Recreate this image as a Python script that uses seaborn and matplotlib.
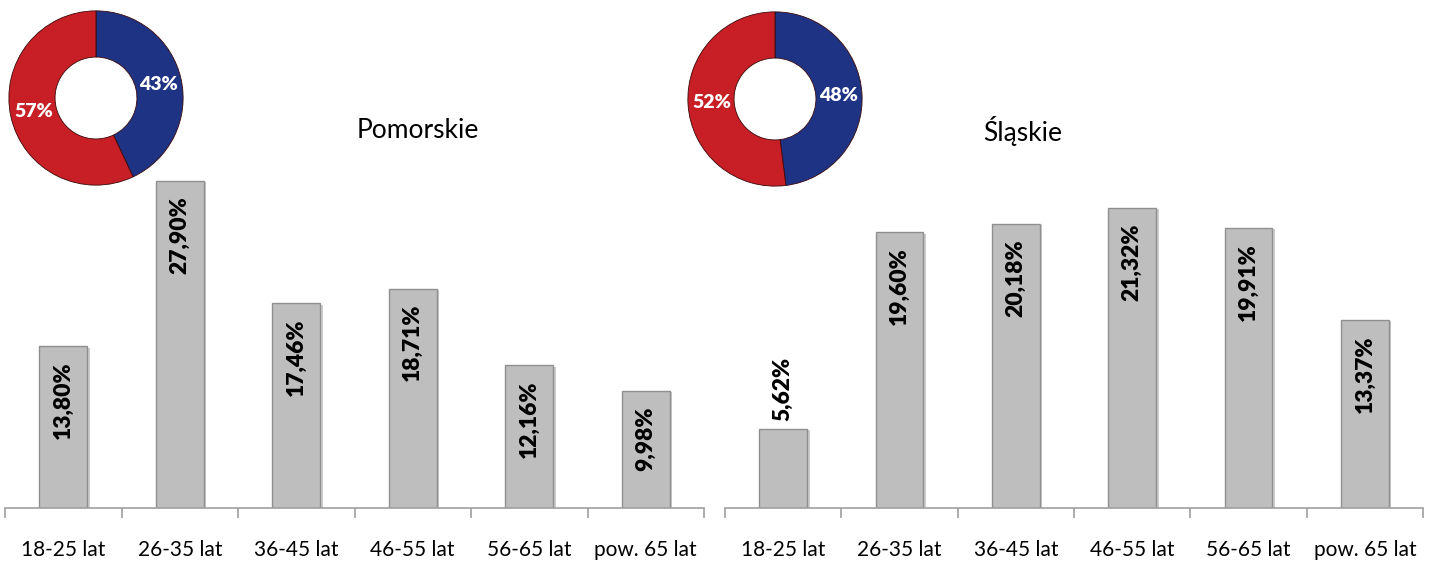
import numpy as np
import pandas as pd
import matplotlib
matplotlib.use('Agg')
import matplotlib.pyplot as plt
import matplotlib.patheffects as pe
import seaborn as sns

# Dane
kategorie = ['18-25 lat', '26-35 lat', '36-45 lat', '46-55 lat', '56-65 lat', 'pow. 65 lat']
pomorskie = [13.80, 27.90, 17.46, 18.71, 12.16, 9.98]
slaskie = [5.62, 19.60, 20.18, 21.32, 19.91, 13.37]
regiony = ['Pomorskie', 'Śląskie']
plec_pomorskie = [43, 57]   # niebieski, czerwony
plec_slaskie = [48, 52]

sns.set_theme(style='white')
plt.rcParams['font.family'] = ['Lato', 'DejaVu Sans']
plt.rcParams['text.color'] = 'black'

kolor_slupka = '#BEBEBE'
kolor_krawedzi = '#8F8F8F'
kolory_pie = ['#1F3384', '#C81E25']

W, H = 1435, 562
fig = plt.figure(figsize=(W / 100, H / 100), dpi=100)


def px_axes(x0, y0, x1, y1):
    # prostokat w pikselach (od gory) -> ulamki figury
    return fig.add_axes([x0 / W, 1 - y1 / H, (x1 - x0) / W, (y1 - y0) / H])


def wykres_slupkowy(ax, wartosci, ymax, tytul, tytul_x):
    df = pd.DataFrame({'kat': kategorie, 'val': wartosci})
    sns.barplot(data=df, x='kat', y='val', order=kategorie, ax=ax,
                color=kolor_slupka, width=0.41, edgecolor=kolor_krawedzi,
                linewidth=1.0, saturation=1)
    for p in ax.patches:
        p.set_path_effects([pe.SimplePatchShadow(offset=(2, -1), alpha=0.25),
                            pe.Normal()])
    ax.set_ylim(0, ymax)
    ax.set_xlim(-0.5, len(kategorie) - 0.5)
    ax.set_xlabel('')
    ax.set_ylabel('')
    ax.set_yticks([])
    for s in ['top', 'right', 'left']:
        ax.spines[s].set_visible(False)
    ax.spines['bottom'].set_color('#A0A0A0')
    ax.spines['bottom'].set_linewidth(1.2)
    ax.set_xticks(np.arange(len(kategorie)))
    ax.set_xticklabels(kategorie, fontsize=15, color='black')
    ax.set_xticks(np.arange(len(kategorie) + 1) - 0.5, minor=True)
    ax.tick_params(axis='x', which='major', bottom=False, length=0, pad=23)
    ax.tick_params(axis='x', which='minor', bottom=True, length=7, width=1.2,
                   color='#A0A0A0', direction='out')
    for i, v in enumerate(wartosci):
        etykieta = f'{v:.2f}%'.replace('.', ',')
        if v < 8:
            ax.annotate(etykieta, (i, v), xytext=(0, 6), textcoords='offset points',
                        rotation=90, ha='center', va='bottom',
                        fontsize=16.5, fontweight='heavy', color='black')
        else:
            ax.annotate(etykieta, (i, v), xytext=(0, -11), textcoords='offset points',
                        rotation=90, ha='center', va='top',
                        fontsize=16.5, fontweight='heavy', color='black')
    fig.text(tytul_x / W, 1 - 131 / H, tytul, fontsize=19, ha='center', va='center',
             color='black')


def wykres_pierscien(ax, udzialy):
    wedges, teksty, auto = ax.pie(udzialy, colors=kolory_pie, startangle=90,
                                  counterclock=False, autopct='%d%%',
                                  pctdistance=0.73,
                                  wedgeprops=dict(width=0.53, edgecolor='#3A0A0A',
                                                  linewidth=0.6))
    for t in auto:
        t.set_color('white')
        t.set_fontweight('heavy')
        t.set_fontsize(14)
    ax.set_xlim(-1.01, 1.01)
    ax.set_ylim(-1.01, 1.01)
    ax.set_aspect('equal')


ax1 = px_axes(5, 0, 704, 508)
wykres_slupkowy(ax1, pomorskie, 508 / 11.72, regiony[0], 418)
ax2 = px_axes(725, 0, 1423, 508)
wykres_slupkowy(ax2, slaskie, 508 / 14.07, regiony[1], 1023)

p1 = px_axes(8, 10, 184, 186)
wykres_pierscien(p1, plec_pomorskie)
p2 = px_axes(687, 11, 863, 187)
wykres_pierscien(p2, plec_slaskie)

fig.savefig('out.png', dpi=100, facecolor='white')
